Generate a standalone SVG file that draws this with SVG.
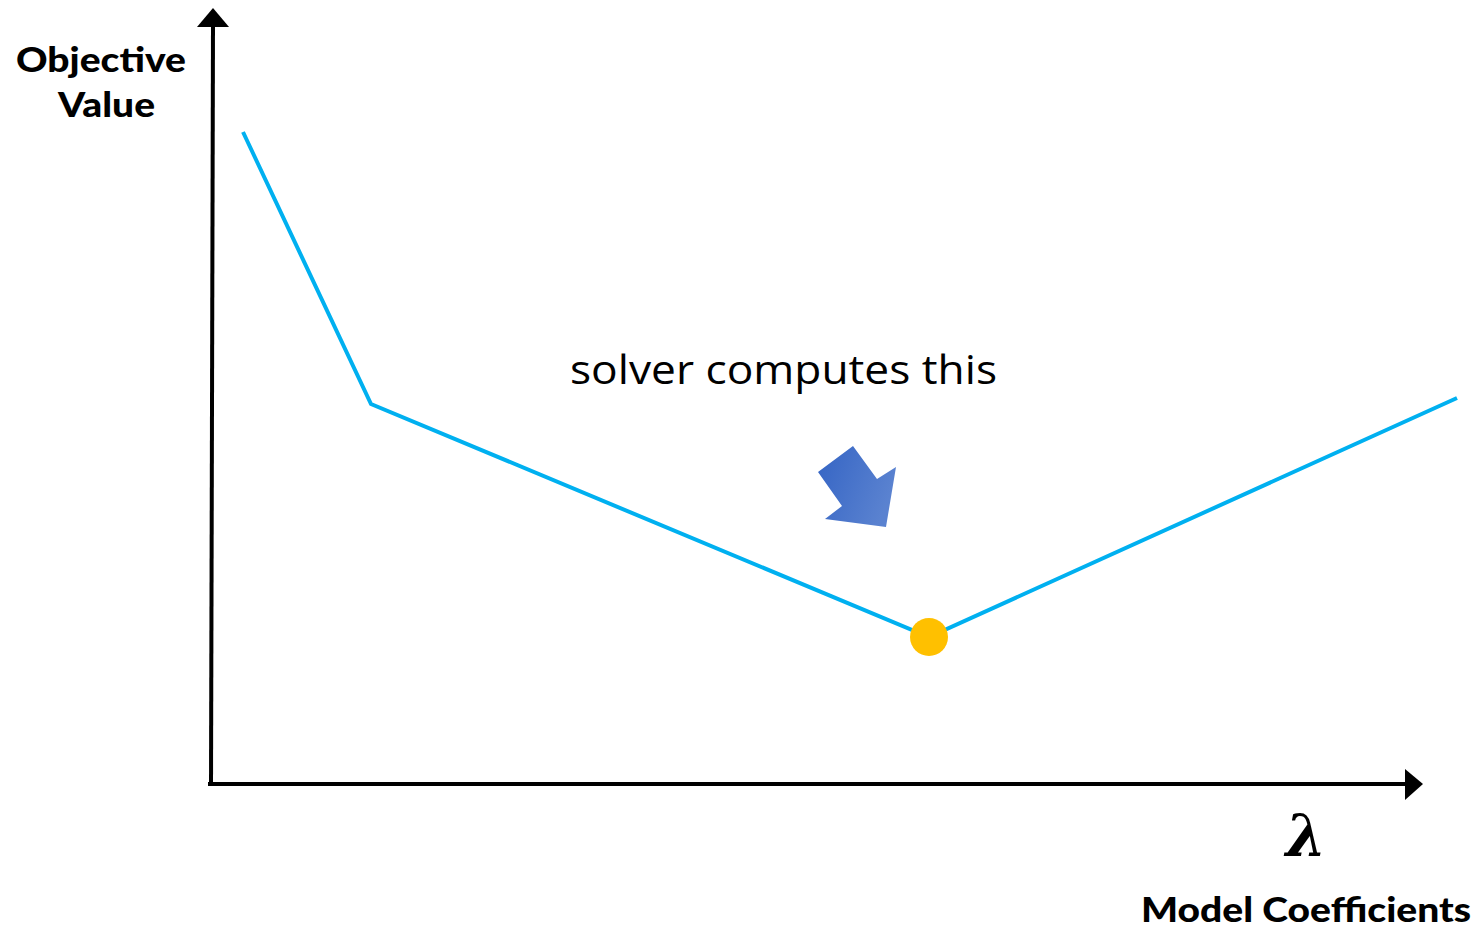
<svg xmlns="http://www.w3.org/2000/svg" width="1480" height="930" viewBox="0 0 1480 930">
<style>
.lbl{font-family:"Lato","Liberation Sans",sans-serif;font-weight:900;font-size:35px;fill:#000}
.note{font-family:"Open Sans","Liberation Sans",sans-serif;font-size:40px;fill:#000}
.axis{stroke:#000;stroke-width:4;fill:none}
.curve{stroke:#00b0f0;stroke-width:4;fill:none}
</style>
<defs>
<linearGradient id="g" x1="0" y1="0" x2="1" y2="0.4">
<stop offset="0" stop-color="#3464c4"/>
<stop offset="1" stop-color="#5a82d0"/>
</linearGradient>
</defs>
<rect width="1480" height="930" fill="#fff"/>
<g id="connectors">
<line class="axis" x1="211" y1="786" x2="213" y2="24"/>
<polygon points="213,8 229,27 197,27" fill="#000"/>
<line class="axis" x1="208" y1="784" x2="1407" y2="784"/>
<polygon points="1423,784 1405,769 1405,800" fill="#000"/>
<polyline class="curve" points="243,132 371,404 929,637 1457,398"/>
</g>
<g id="point"><circle cx="929" cy="637" r="19" fill="#ffc000"/></g>
<g id="pointer"><polygon points="853,446 877,479 896,467 886,527 825,519 842,506 818,472" fill="url(#g)"/></g>
<g id="label-y">
<text class="lbl" x="16" y="72" textLength="170" lengthAdjust="spacingAndGlyphs">Objective</text>
<text class="lbl" x="58" y="117" textLength="97" lengthAdjust="spacingAndGlyphs">Value</text>
</g>
<g id="label-x">
<text x="1306" y="856" text-anchor="middle" style="font-family:'DejaVu Serif',serif;font-style:italic;font-weight:bold;font-size:58px">λ</text>
<text class="lbl" x="1141" y="922" textLength="330" lengthAdjust="spacingAndGlyphs">Model Coefficients</text>
</g>
<g id="note"><text class="note" x="570" y="384" textLength="427" lengthAdjust="spacingAndGlyphs">solver computes this</text></g>
</svg>
